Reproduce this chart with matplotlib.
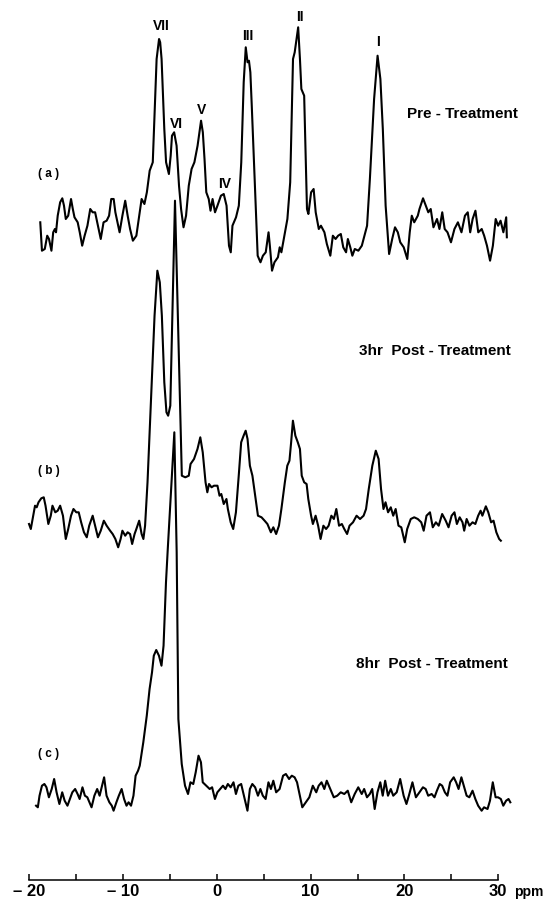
import numpy as np
import matplotlib
matplotlib.use("Agg")
import matplotlib.pyplot as plt
from matplotlib.ticker import FixedLocator, FuncFormatter

# ── Data: chemical shift (ppm) and signal height above baseline ─────────────
a_ppm = [
    -18.84, -18.66, -18.36, -18.10, -17.91, -17.65, -17.46, -17.28, -17.16, -16.98,
    -16.72, -16.49, -16.31, -16.12, -15.86, -15.56, -15.37, -15.19, -14.85, -14.63,
    -14.37, -14.11, -13.81, -13.51, -13.25, -12.99, -12.69, -12.39, -12.09, -11.76,
    -11.50, -11.27, -11.01, -10.83, -10.38, -10.08, -9.78, -9.52, -9.26, -8.96,
    -8.59, -8.29, -8.03, -7.73, -7.47, -7.17, -6.84, -6.65, -6.43, -6.17,
    -6.05, -5.90, -5.61, -5.42, -5.12, -4.93, -4.79, -4.56, -4.30, -4.04,
    -3.82, -3.56, -3.29, -3.00, -2.70, -2.40, -2.06, -1.69, -1.50, -1.32,
    -1.13, -0.87, -0.68, -0.46, -0.20, 0.06, 0.43, 0.73, 1.03, 1.29,
    1.48, 1.66, 2.04, 2.34, 2.60, 2.86, 3.08, 3.27, 3.42, 3.57,
    3.72, 4.09, 4.35, 4.65, 4.91, 5.21, 5.51, 5.65, 5.88, 6.14,
    6.51, 6.70, 6.88, 7.26, 7.52, 7.82, 8.12, 8.30, 8.67, 8.86,
    9.01, 9.31, 9.61, 9.76, 10.05, 10.32, 10.54, 10.87, 11.10, 11.47,
    11.73, 12.10, 12.37, 12.66, 12.93, 13.22, 13.48, 13.78, 13.97, 14.23,
    14.45, 14.71, 15.09, 15.46, 15.83, 16.02, 16.32, 16.77, 17.14, 17.44,
    17.70, 18.00, 18.37, 18.70, 19.00, 19.30, 19.56, 19.93, 20.31, 20.57,
    20.79, 21.05, 21.43, 21.61, 21.99, 22.28, 22.55, 22.81, 23.10, 23.48,
    23.74, 24.04, 24.30, 24.60, 24.97, 25.34, 25.71, 26.09, 26.46, 26.76,
    27.02, 27.28, 27.58, 27.88, 28.25, 28.51, 28.81, 29.14, 29.44, 29.74,
    30.00, 30.26, 30.56, 30.86, 30.93,
]
a_int = [
    21.7, -6.7, -5, 8.3, 5, -6.7, 11.7, 15, 11.7, 28.3,
    41.7, 45.7, 38.3, 25, 28.3, 45, 35, 26.7, 21.7, 11.7,
    -1.7, 8.3, 18.3, 35, 31.7, 31.7, 18.3, 5, 21.7, 23.3,
    28.3, 45, 45, 31.7, 11.7, 28.3, 43.3, 28.3, 15, 3.3,
    8.3, 28.3, 45, 40, 51.7, 73.3, 81.7, 128.3, 185, 205,
    201.7, 185, 115, 81.7, 70, 88.3, 108.3, 111.7, 98.3, 58.3,
    35, 16.7, 28.3, 58.3, 75, 81.7, 98.3, 123.3, 111.7, 85,
    51.7, 45, 33.3, 45, 31.7, 38.3, 48.3, 50, 38.3, -1.7,
    -8.3, 18.3, 26.7, 38.3, 81.7, 161.7, 196.7, 181.7, 183.3, 171.7,
    138.3, 51.7, -11.7, -18.3, -11.7, -8.3, 11.7, -1.7, -26.7, -18.3,
    -13.3, -3.3, -8.3, 11.7, 25, 61.7, 185, 191.7, 216.7, 185,
    155, 148.3, 35, 30, 51.7, 55, 31.7, 15, 18.3, 11.7,
    0, -11.7, 8.3, 5, 8.3, 10, -3.3, -8.3, 5, -3.3,
    -11.7, -5, -6.7, -1.7, 11.7, 18.3, 65, 145, 188.3, 165,
    115, 38.3, -10, 5, 16.7, 11.7, 1.7, -3.3, -15, 11.7,
    28.3, 21.7, 28.3, 35, 45.7, 38.3, 31.7, 35, 16.7, 25,
    15, 31.7, 15, 11.7, 1.7, 15, 21.7, 11.7, 28.3, 31.7,
    11.7, 25, 33.3, 11.7, 15, 8.3, -1.7, -16.7, -1.7, 25,
    18.3, 23.3, 11.7, 26.7, 6.7,
]

b_ppm = [
    -20.04, -19.85, -19.59, -19.40, -19.22, -19.03, -18.73, -18.47, -18.28, -17.98,
    -17.72, -17.54, -17.24, -16.98, -16.72, -16.42, -16.12, -15.86, -15.56, -15.30,
    -15.00, -14.74, -14.48, -14.18, -13.88, -13.62, -13.25, -12.99, -12.69, -12.39,
    -12.06, -11.76, -11.39, -11.12, -10.83, -10.53, -10.27, -10.08, -9.78, -9.52,
    -9.26, -9.04, -8.78, -8.59, -8.29, -8.03, -7.84, -7.66, -7.40, -7.02,
    -6.65, -6.35, -6.09, -5.87, -5.61, -5.38, -5.20, -4.97, -4.47, -3.74,
    -3.37, -3.00, -2.81, -2.44, -2.07, -1.77, -1.51, -1.21, -1.02, -0.84,
    -0.57, -0.31, 0.06, 0.28, 0.47, 0.73, 1.02, 1.17, 1.47, 1.74,
    2.03, 2.33, 2.59, 2.85, 3.07, 3.27, 3.52, 3.79, 4.09, 4.38,
    4.76, 5.09, 5.39, 5.76, 6.02, 6.32, 6.62, 6.88, 7.25, 7.51,
    7.74, 7.92, 8.11, 8.37, 8.63, 8.86, 9.05, 9.31, 9.57, 9.75,
    10.05, 10.24, 10.53, 10.80, 11.06, 11.36, 11.65, 11.92, 12.21, 12.48,
    12.74, 13.03, 13.33, 13.59, 13.89, 14.15, 14.52, 14.90, 15.27, 15.65,
    15.91, 16.20, 16.58, 16.95, 17.25, 17.51, 17.77, 17.99, 18.26, 18.55,
    18.81, 19.07, 19.37, 19.67, 20.04, 20.30, 20.68, 21.05, 21.43, 21.80,
    22.06, 22.36, 22.73, 23.03, 23.36, 23.66, 24.03, 24.41, 24.71, 25.04,
    25.34, 25.60, 25.90, 26.20, 26.38, 26.64, 26.94, 27.27, 27.57, 27.87,
    28.13, 28.32, 28.69, 28.95, 29.25, 29.51, 29.81, 30.11, 30.29,
]
b_int = [
    10, 5, 18.3, 28.3, 26.7, 31.7, 35.7, 36.7, 28.3, 10,
    18.3, 28.3, 21.7, 23.3, 28.3, 18.3, -5, 5, 18.3, 25,
    21.7, 21.7, 11.7, 1.7, -3.3, 8.3, 18.3, 8.3, -3.3, 3.3,
    13.3, 8.3, 3.3, 0, -5, -13.3, -5, 3.3, -1.7, 1.7,
    0, -10, 0, 5, 13.3, 0, -5, 8.3, 51.7, 135,
    218.3, 263.3, 251.7, 218.3, 151.7, 121.7, 118.3, 128.3, 333.3, 58.3,
    56.7, 58.3, 70, 75, 85, 96.7, 81.7, 51.7, 41.7, 50,
    46.7, 48.3, 48.3, 38.3, 40, 30, 35, 25, 11.7, 5,
    21.7, 58.3, 91.7, 98.3, 103.3, 95, 68.3, 58.3, 38.3, 18.3,
    16.7, 13.3, 10, 1.7, 6.7, 0, 8.3, 25, 51.7, 68.3,
    73.3, 91.7, 113.3, 98.3, 91.7, 85, 58.3, 51.7, 50, 35,
    18.3, 10, 18.3, 8.3, -5, 8.3, 5, 8.3, 18.3, 15,
    25, 8.3, 10, 5, 0, 8.3, 11.7, 18.3, 15, 18.3,
    25, 45, 68.3, 83.3, 75, 45, 25, 31.7, 21.7, 26.7,
    18.3, 25, 8.3, 6.7, -8.3, 5, 15, 16.7, 15, 11.7,
    3.3, 18.3, 21.7, 6.7, 11.7, 8.3, 20, 13.3, 6.7, 18.3,
    21.7, 10, 16.7, 11.7, 3.3, 15, 8.3, 11.7, 10, 18.3,
    23.3, 18.3, 27.7, 21.7, 11.7, 13.3, 1.7, -5, -6.7,
]

c_ppm = [
    -19.29, -19.10, -18.92, -18.66, -18.40, -18.18, -17.92, -17.62, -17.36, -17.10,
    -16.80, -16.50, -16.24, -15.94, -15.68, -15.42, -15.12, -14.86, -14.64, -14.34,
    -14.08, -13.82, -13.37, -13.07, -12.77, -12.51, -12.25, -12.03, -11.77, -11.47,
    -11.21, -11.02, -10.72, -10.46, -10.16, -9.90, -9.64, -9.42, -9.16, -8.90,
    -8.67, -8.41, -8.23, -7.85, -7.48, -7.18, -6.92, -6.73, -6.47, -6.18,
    -5.91, -5.69, -5.43, -5.24, -4.54, -4.29, -4.11, -3.75, -3.40, -3.08,
    -2.82, -2.52, -2.26, -1.96, -1.70, -1.51, -1.14, -0.77, -0.51, -0.21,
    0.05, 0.35, 0.65, 0.91, 1.17, 1.47, 1.77, 2.03, 2.29, 2.59,
    2.88, 3.26, 3.52, 3.78, 4.08, 4.38, 4.64, 4.90, 5.20, 5.50,
    5.76, 6.02, 6.32, 6.69, 7.06, 7.36, 7.70, 7.99, 8.29, 8.55,
    8.85, 9.11, 9.48, 9.86, 10.23, 10.60, 10.86, 11.16, 11.46, 11.72,
    12.09, 12.47, 12.84, 13.21, 13.59, 13.96, 14.33, 14.70, 15.08, 15.45,
    15.71, 16.01, 16.31, 16.57, 16.83, 17.13, 17.43, 17.69, 17.95, 18.25,
    18.55, 18.81, 19.18, 19.55, 19.92, 20.22, 20.48, 20.86, 21.23, 21.60,
    21.98, 22.27, 22.54, 22.91, 23.21, 23.47, 23.77, 24.03, 24.32, 24.59,
    24.88, 25.26, 25.52, 25.78, 26.08, 26.38, 26.64, 26.93, 27.27, 27.57,
    27.87, 28.24, 28.50, 28.87, 29.13, 29.43, 29.73, 29.99, 30.29, 30.55,
    30.85, 31.11, 31.30,
]
c_int = [
    -6.7, -8.3, 3.3, 13.3, 15, 11.7, 1.7, 10, 20, 6.7,
    -5, 6.7, -1.7, -6.7, 0, 6.7, 10, 5, 0, 11.7,
    3.3, 1.7, -8.3, 3.3, 10, 3.3, 13.3, 21.7, 3.3, -3.3,
    -6.7, -11.7, -3.3, 3.3, 10, 0, -6.7, -3.3, -6.7, 3.3,
    23.3, 28.3, 33.3, 56.7, 83.3, 110, 126.7, 143.3, 149, 143.3,
    133.3, 153.3, 216.7, 250, 366.7, 246.7, 80, 35, 13.3, 5,
    16.7, 15, 26.7, 43.3, 36.7, 16.7, 13.3, 10, 11.7, 0,
    6.7, 10, 13.3, 10, 15, 11.7, 16.7, 5, 13.3, 15,
    3.3, -11.7, 10, 15, 11.7, 3.3, 10, 3.3, 0, 16.7,
    10, 18.3, 6.7, 10, 23.3, 25, 20, 23.3, 21.7, 16.7,
    3.3, -8.3, -3.3, 1.7, 13.3, 6.7, 13.3, 16.7, 10, 18.3,
    10, 1.7, 3.3, 6.7, 5, 8.3, -3.3, 5, 11.7, 5,
    10, 1.7, 5, 10, -10, 6.7, 16.7, 3.3, 18.3, 3.3,
    10, 3.3, 6.7, 20, 3.3, -5, 3.3, 16.7, 1.7, 6.7,
    11.7, 10, 3.3, 5, 1.7, 8.3, 15, 13.3, 6.7, 3.3,
    16.7, 21.7, 16.7, 10, 21.7, 11.7, 3.3, 1.7, 8.3, 0,
    -6.7, -11.7, -8.3, -10, -1.7, 16.7, 1.7, 1.7, 0, -6.7,
    -1.7, 0, -3.3,
]

panel_tags = ["( a )", "( b )", "( c )"]
panel_titles = ["Pre - Treatment", "3hr  Post - Treatment", "8hr  Post - Treatment"]
peak_names = ["I", "II", "III", "IV", "V", "VI", "VII"]
x_ticks = [-20, -15, -10, -5, 0, 5, 10, 15, 20, 25, 30]
x_labels = {-20: "\u2013 20", -10: "\u2013 10", 0: "0", 10: "10", 20: "20", 30: "30"}

# ── Figure ─────────────────────────────────────────────────────────────────
plt.rcParams["font.family"] = ["Liberation Sans", "DejaVu Sans"]
plt.rcParams["font.weight"] = "bold"

fig = plt.figure(figsize=(5.48, 9.03), dpi=100)
ax = fig.add_axes([0, 22 / 903, 1, 881 / 903])
ax.set_xlim(-23.136, 35.32)
ax.set_ylim(0, 881)

offsets = [636, 346, 81]
traces = [(a_ppm, a_int), (b_ppm, b_int), (c_ppm, c_int)]
for (xs, ys), off in zip(traces, offsets):
    ax.plot(np.array(xs), np.array(ys) + off, color="black", lw=1.5,
            solid_joinstyle="round")

# ── Labels ─────────────────────────────────────────────────────────────────
peak_pos = [(17.19, 839), (8.87, 864), (3.32, 845), (0.87, 697),
            (-1.59, 771), (-4.36, 757), (-5.96, 855)]
for name, (px, py) in zip(peak_names, peak_pos):
    ax.text(px, py, name, ha="center", va="center", fontsize=10,
            fontweight="bold")

for tag, ty in zip(panel_tags, [707, 410, 127]):
    ax.text(-19.1, ty, tag, ha="left", va="center", fontsize=8.5,
            fontweight="bold")

for title, (tx, ty) in zip(panel_titles, [(20.27, 767), (15.16, 530), (14.84, 217)]):
    ax.text(tx, ty, title, ha="left", va="center", fontsize=11,
            fontweight="bold")

# ── ppm axis ───────────────────────────────────────────────────────────────
for side in ["left", "right", "top"]:
    ax.spines[side].set_visible(False)
ax.spines["bottom"].set_bounds(-20, 30)
ax.spines["bottom"].set_linewidth(1.1)
ax.xaxis.set_major_locator(FixedLocator(x_ticks))
ax.xaxis.set_major_formatter(FuncFormatter(lambda v, p: x_labels.get(int(round(v)), "")))
ax.tick_params(axis="x", direction="in", length=4.5, width=1.1, pad=2,
               labelsize=12)
for lab in ax.get_xticklabels():
    lab.set_fontweight("bold")
ax.set_yticks([])
ax.text(31.7, -15, "ppm", ha="left", va="baseline", fontsize=10,
        fontweight="bold", clip_on=False)

fig.savefig("out.png", dpi=100, facecolor="white")
plt.close(fig)
